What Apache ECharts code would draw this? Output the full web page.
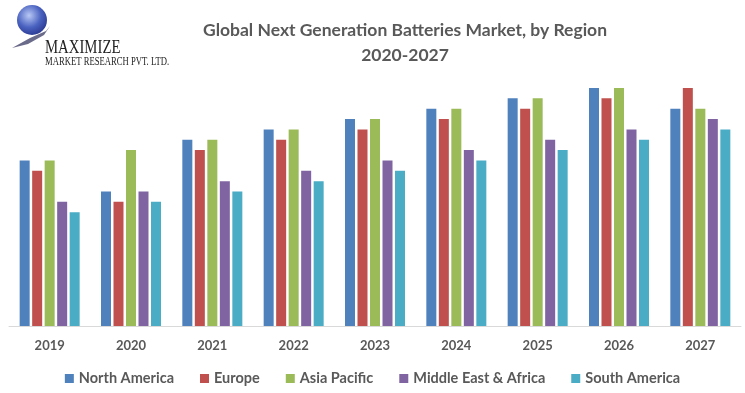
<!DOCTYPE html>
<html><head><meta charset="utf-8">
<script src="https://cdn.jsdelivr.net/npm/echarts@6/dist/echarts.min.js"></script>
<style>html,body{margin:0;padding:0;background:#fff}#c{width:745px;height:393px}</style>
</head><body><div id="c"></div>
<script>
const categories = ['2019','2020','2021','2022','2023','2024','2025','2026','2027'];
const northAmerica = [16,13,18,19,20,21,22,23,21];
const europe       = [15,12,17,18,19,20,21,22,23];
const asiaPacific  = [16,17,18,19,20,21,22,23,21];
const middleEastAfrica = [12,13,14,15,16,17,18,19,20];
const southAmerica = [11,12,13,14,15,16,17,18,19];
const seriesNames = ['North America','Europe','Asia Pacific','Middle East & Africa','South America'];
const colors = ['#4F81BD','#C0504D','#9BBB59','#8064A2','#4BACC6'];
const values = [northAmerica, europe, asiaPacific, middleEastAfrica, southAmerica];

const chart = echarts.init(document.getElementById('c'));
const F = 'Lato, "Open Sans", sans-serif';
chart.setOption({
  animation: false,
  color: colors,
  title: {
    text: 'Global Next Generation Batteries Market, by Region\n2020-2027',
    left: 400, top: 13, textAlign: 'center',
    textStyle: {fontFamily: F, fontSize: 17.5, fontWeight: 'bold', color: '#595959', lineHeight: 25}
  },
  legend: {
    data: seriesNames, top: 366, left: 'center', icon: 'rect', itemWidth: 9, itemHeight: 9, itemGap: 26,
    textStyle: {fontFamily: F, fontSize: 14.5, fontWeight: 'bold', color: '#595959'}
  },
  grid: {left: 9, right: 4, top: 88, bottom: 67},
  xAxis: {
    type: 'category', data: categories,
    axisLine: {lineStyle: {color: '#D9D9D9', width: 1}},
    axisTick: {show: false},
    axisLabel: {fontFamily: F, fontSize: 13, fontWeight: 'bold', color: '#595959', margin: 13}
  },
  yAxis: {type: 'value', min: 0, max: 23, show: false, splitLine: {show: false}},
  series: values.map((v, i) => ({
    name: seriesNames[i], type: 'bar', data: v, barWidth: 10, barGap: '25%'
  })),
  graphic: [
    {type: 'circle', shape: {cx: 32, cy: 20, r: 15},
      style: {fill: new echarts.graphic.RadialGradient(0.4, 0.35, 0.8, [{offset: 0, color: '#b8c8f5'}, {offset: 0.5, color: '#4a62c0'}, {offset: 1, color: '#1e2a80'}])}},
    {type: 'polygon', shape: {points: [[12,48],[30,38],[46,31],[50,26],[44,35],[28,44]]}, style: {fill: '#6a6a8a'}},
    {type: 'text', x: 45, y: 39, scaleX: 0.82, style: {text: 'MAXIMIZE', font: '18px "Liberation Serif", serif', fill: '#222'}},
    {type: 'text', x: 45, y: 56, scaleX: 0.72, style: {text: 'MARKET RESEARCH PVT. LTD.', font: '12px "Liberation Serif", serif', fill: '#222'}}
  ]
});
</script></body></html>
